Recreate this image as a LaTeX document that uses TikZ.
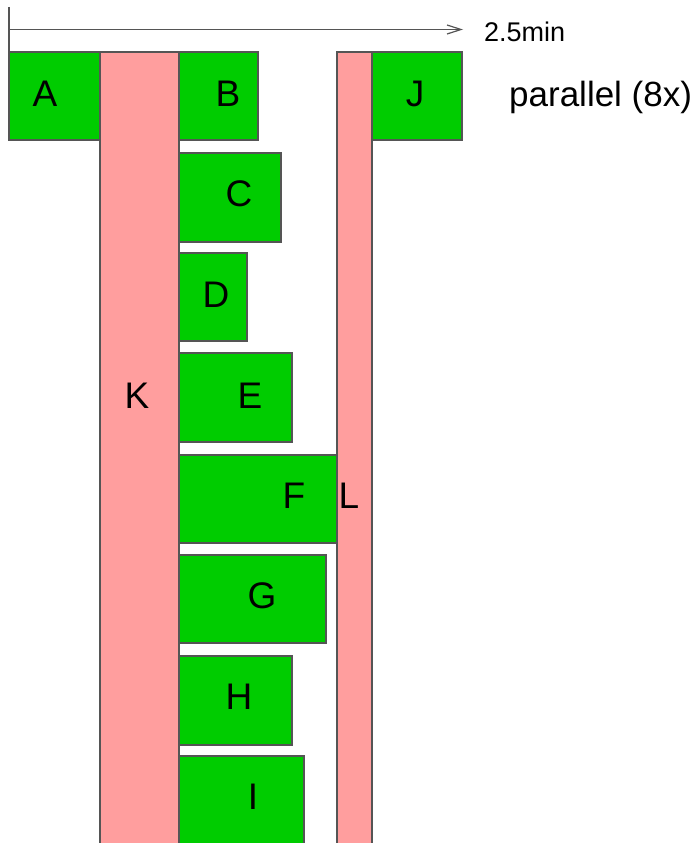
\documentclass[tikz,border=0pt]{standalone}
\usepackage{fontspec}
\setmainfont{Liberation Sans}
\usetikzlibrary{arrows.meta}
\definecolor{gbox}{RGB}{0,204,0}
\definecolor{pbox}{RGB}{255,158,158}
\definecolor{edge}{RGB}{85,85,85}
\tikzset{
  greenbox/.style={draw=edge, line width=1.2pt, fill=gbox, anchor=north west, inner sep=0pt, outer sep=0pt},
  pinkbox/.style={draw=edge, line width=1.2pt, fill=pbox, anchor=north west, inner sep=0pt, outer sep=0pt},
  lbl/.style={inner sep=0pt, font=\fontsize{37}{40}\selectfont},
  axis/.style={draw=edge, line width=1.2pt},
}
\newcommand{\gb}[5]{\node[greenbox, minimum width=#3pt, minimum height=#4pt] (#1) at (#2) {};}
\begin{document}
\begin{tikzpicture}[x=1pt,y=-1pt]
\clip (0,0) rectangle (698,843);
\fill[white] (0,0) rectangle (698,843);
% pink columns
\node[pinkbox, minimum width=79pt, minimum height=800pt] (K) at (100,52) {};
\node[pinkbox, minimum width=35pt, minimum height=800pt] (L) at (337,52) {};
% green boxes
\node[greenbox, minimum width=91pt, minimum height=88pt] (A) at (9,52) {};
\node[greenbox, minimum width=79pt, minimum height=88pt] (B) at (179,52) {};
\node[greenbox, minimum width=90pt, minimum height=88pt] (J) at (372,52) {};
\node[greenbox, minimum width=102pt, minimum height=89pt] (C) at (179,153) {};
\node[greenbox, minimum width=68pt, minimum height=88pt] (D) at (179,253) {};
\node[greenbox, minimum width=113pt, minimum height=89pt] (E) at (179,353) {};
\node[greenbox, minimum width=158pt, minimum height=88pt] (F) at (179,455) {};
\node[greenbox, minimum width=147pt, minimum height=88pt] (G) at (179,555) {};
\node[greenbox, minimum width=113pt, minimum height=89pt] (H) at (179,656) {};
\node[greenbox, minimum width=125pt, minimum height=100pt] (I) at (179,756) {};
% labels
\node[lbl] (tA) at (45,94) {A};
\node[lbl] (tB) at (228,94) {B};
\node[lbl] (tJ) at (415,94) {J};
\node[lbl] (tC) at (239,194) {C};
\node[lbl] (tD) at (216,295) {D};
\node[lbl] (tE) at (250,396) {E};
\node[lbl] (tF) at (294,496) {F};
\node[lbl] (tL) at (349,496) {L};
\node[lbl] (tG) at (262,596) {G};
\node[lbl] (tH) at (239,697) {H};
\node[lbl] (tI) at (253,797) {I};
\node[lbl] (tK) at (137,396) {K};
\node[inner sep=0pt, anchor=west, font=\fontsize{35}{40}\selectfont] (par) at (509,97) {parallel (8x)};
% time axis
\coordinate (t0) at (9,29.5);
\coordinate (tick) at (9,7);
\coordinate (t1) at (463,29.5);
\draw[axis] (tick) -- (A.north west);
\draw[axis, -{Straight Barb[length=14pt,width=9pt,line width=1.2pt]}] (t0) -- (t1);
\node[inner sep=0pt, anchor=west, font=\fontsize{27}{30}\selectfont] (tmin) at (484,31.5) {2.5min};
\end{tikzpicture}
\end{document}
